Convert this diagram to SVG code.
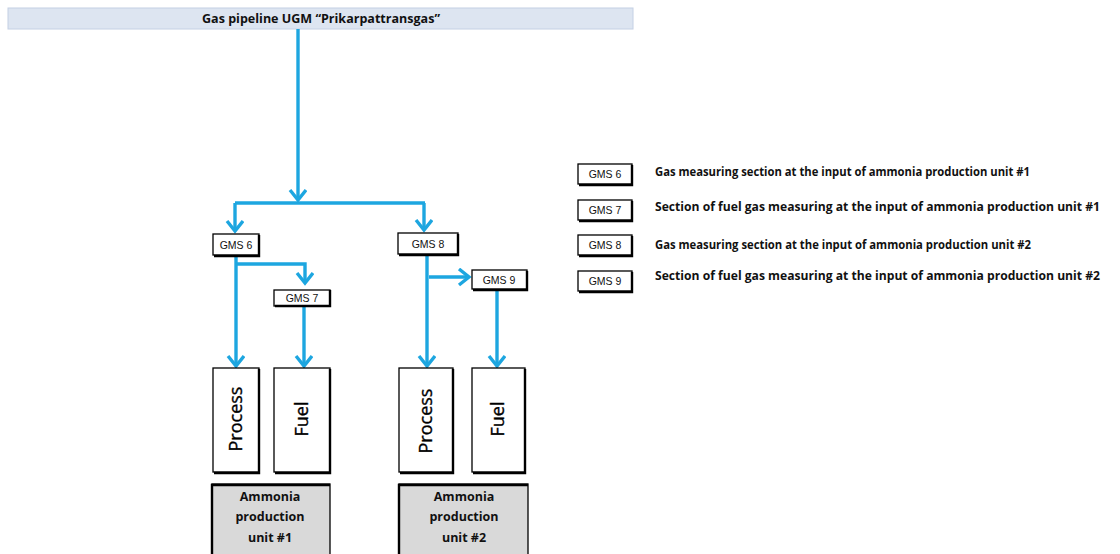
<svg xmlns="http://www.w3.org/2000/svg" width="1120" height="554" viewBox="0 0 1120 554">
<defs>
<marker id="ah" markerUnits="userSpaceOnUse" markerWidth="18" markerHeight="20" refX="12" refY="9" orient="auto" viewBox="0 0 18 20">
<path d="M2,1 L12,9 L2,17" fill="none" stroke="#1da6e0" stroke-width="3.4" stroke-linejoin="miter"/>
</marker>
</defs>
<style>
.pipe{fill:none;stroke:#1da6e0;stroke-width:3.4;marker-end:url(#ah)}
.line{fill:none;stroke:#1da6e0;stroke-width:3.4}
.box{fill:#fff;stroke:#000;stroke-width:1.3}
.sh{fill:none;stroke:#000;stroke-width:2.4}
.unit{fill:#d9d9d9;stroke:#000;stroke-width:1.3}
.lbl{font-family:"Liberation Sans",Arial,sans-serif;font-size:10.5px;fill:#111;text-anchor:middle}
.big{font-family:"Open Sans","Liberation Sans",sans-serif;font-size:18px;fill:#000;text-anchor:middle;stroke:#000;stroke-width:0.35}
.bold{font-family:"Open Sans","Liberation Sans",sans-serif;font-weight:bold;font-size:12px;fill:#111}
.ub{font-family:"Open Sans","Liberation Sans",sans-serif;font-weight:bold;font-size:12.5px;fill:#111;text-anchor:middle}
</style>
<g id="header">
<rect x="8" y="8" width="625" height="21" fill="#dde5f1" stroke="#c4d0e4" stroke-width="1"/>
<text class="bold" x="321" y="23" text-anchor="middle" textLength="238" lengthAdjust="spacingAndGlyphs">Gas pipeline UGM “Prikarpattransgas”</text>
</g>
<g id="connectors">
<path class="pipe" d="M298,29 V200"/>
<path class="line" d="M235,203 H425"/>
<path class="pipe" d="M235,203 V231"/>
<path class="pipe" d="M424,203 V230"/>
<path class="pipe" d="M236,256 V366"/>
<path class="pipe" d="M236,264 H305 V283"/>
<path class="pipe" d="M304,306 V366"/>
<path class="pipe" d="M427,254 V366"/>
<path class="pipe" d="M429,277 H469"/>
<path class="pipe" d="M497,290 V366"/>
</g>
<g id="gms6">
<rect class="box" x="213" y="234" width="46" height="21"/>
<path class="sh" d="M259,235 V256 H214"/>
<text class="lbl" x="236" y="248.5">GMS 6</text>
</g>
<g id="gms7">
<rect class="box" x="274" y="290" width="56" height="16"/>
<path class="sh" d="M330,290 V306 H275"/>
<text class="lbl" x="302" y="302">GMS 7</text>
</g>
<g id="gms8">
<rect class="box" x="398" y="233" width="60" height="21"/>
<path class="sh" d="M458,234 V255 H399"/>
<text class="lbl" x="428" y="247.5">GMS 8</text>
</g>
<g id="gms9">
<rect class="box" x="472" y="270" width="55" height="19"/>
<path class="sh" d="M527,271 V290 H473"/>
<text class="lbl" x="499" y="283.5">GMS 9</text>
</g>
<g id="process1">
<rect class="box" x="213" y="368" width="46" height="104"/>
<path class="sh" d="M259,369 V473 H214"/>
<text class="big" transform="translate(236,419) rotate(-90)" y="6">Process</text>
</g>
<g id="fuel1">
<rect class="box" x="274" y="368" width="56" height="104"/>
<path class="sh" d="M330,369 V473 H275"/>
<text class="big" transform="translate(302,419) rotate(-90)" y="6">Fuel</text>
</g>
<g id="process2">
<rect class="box" x="399" y="368" width="54" height="104"/>
<path class="sh" d="M453,369 V473 H400"/>
<text class="big" transform="translate(426,421) rotate(-90)" y="6">Process</text>
</g>
<g id="fuel2">
<rect class="box" x="472" y="368" width="53" height="104"/>
<path class="sh" d="M525,369 V473 H473"/>
<text class="big" transform="translate(498,419) rotate(-90)" y="6">Fuel</text>
</g>
<g id="unit1">
<rect class="unit" x="212" y="484" width="118" height="80"/>
<path class="sh" d="M212,564 V485 H330"/>
<text class="ub" x="270" y="501">Ammonia</text>
<text class="ub" x="270" y="521">production</text>
<text class="ub" x="270" y="542">unit #1</text>
</g>
<g id="unit2">
<rect class="unit" x="399" y="484" width="129" height="80"/>
<path class="sh" d="M399,564 V485 H528"/>
<text class="ub" x="464" y="501">Ammonia</text>
<text class="ub" x="464" y="521">production</text>
<text class="ub" x="464" y="542">unit #2</text>
</g>
<g id="legend">
<rect class="box" x="578" y="164" width="54" height="20"/>
<path class="sh" d="M632,165 V185 H579"/>
<text class="lbl" x="605" y="178">GMS 6</text>
<rect class="box" x="578" y="200" width="54" height="20"/>
<path class="sh" d="M632,201 V221 H579"/>
<text class="lbl" x="605" y="214">GMS 7</text>
<rect class="box" x="578" y="235" width="54" height="20"/>
<path class="sh" d="M632,236 V256 H579"/>
<text class="lbl" x="605" y="249">GMS 8</text>
<rect class="box" x="578" y="271" width="54" height="20"/>
<path class="sh" d="M632,272 V292 H579"/>
<text class="lbl" x="605" y="285">GMS 9</text>
<text class="bold" x="655" y="176" textLength="375" lengthAdjust="spacingAndGlyphs">Gas measuring section at the input of ammonia production unit #1</text>
<text class="bold" x="655" y="211" textLength="445" lengthAdjust="spacingAndGlyphs">Section of fuel gas measuring at the input of ammonia production unit #1</text>
<text class="bold" x="655" y="249" textLength="376" lengthAdjust="spacingAndGlyphs">Gas measuring section at the input of ammonia production unit #2</text>
<text class="bold" x="655" y="280" textLength="445" lengthAdjust="spacingAndGlyphs">Section of fuel gas measuring at the input of ammonia production unit #2</text>
</g>
</svg>
